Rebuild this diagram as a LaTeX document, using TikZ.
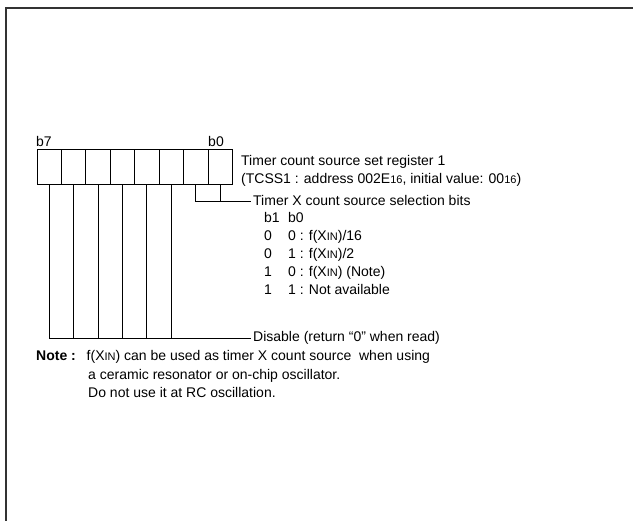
\documentclass[tikz,border=0pt]{standalone}
\usepackage{fontspec}
\setmainfont{Liberation Sans}
\newcommand\smn[1]{{\fontsize{11}{11}\selectfont #1}}
\newcommand\xin{X\smn{IN}}
\begin{document}
\begin{tikzpicture}[x=1pt,y=-1pt,
    cell/.style={draw, minimum width=24.45pt, minimum height=35.3pt, inner sep=0pt, outer sep=0pt},
    txt/.style={anchor=base west, inner xsep=2pt, inner ysep=0pt, font=\fontsize{14}{17}\selectfont},
    wire/.style={line width=0.6pt}]
    \useasboundingbox (0,0) rectangle (633,521);
    \draw[line width=2.6pt, black!80] (6,521) -- (6,8) -- (633,8);

    \foreach \i in {0,...,7}
    \node[cell] (c\i) at ({36.7+24.45*(7.5-\i)},166.7) {};
    \node[txt] (b7) at (34,147) {b7};
    \node[txt, anchor=base east] (b0) at (226,147) {b0};

    \node[txt] (reg1) at (239,166) {Timer count source set register 1};
    \node[txt] (reg2) at (239,184) {(TCSS1 : address 002E\smn{16}, initial value: 00\smn{16})};
    \node[txt] (sel) at (251,206) {Timer X count source selection bits};
    \node[txt] (hdr) at (262,223) {\makebox[24pt][l]{b1}b0};
    \node[txt] (r0) at (262,241) {\makebox[24pt][l]{0}0 : f(\xin)/16};
    \node[txt] (r1) at (262,259) {\makebox[24pt][l]{0}1 : f(\xin)/2};
    \node[txt] (r2) at (262,277) {\makebox[24pt][l]{1}0 : f(\xin) (Note)};
    \node[txt] (r3) at (262,295) {\makebox[24pt][l]{1}1 : Not available};
    \node[txt] (dis) at (251,342) {Disable (return “0” when read)};
    \node[txt] (note) at (34,361) {\makebox[50.5pt][l]{\textbf{Note :}}f(\xin) can be used as timer X count source\ \ when using};
    \node[txt] (n2) at (86,380) {a ceramic resonator or on-chip oscillator.};
    \node[txt] (n3) at (86,398) {Do not use it at RC oscillation.};

    \draw[wire] (c1.south) |- (sel.west);
    \draw[wire] (c0.south) -- (c0.south |- sel.west);
    \draw[wire] (c7.south) |- (dis.west);
    \foreach \i in {2,...,6}
    \draw[wire] (c\i.south) -- (c\i.south |- dis.west);
\end{tikzpicture}
\end{document}
